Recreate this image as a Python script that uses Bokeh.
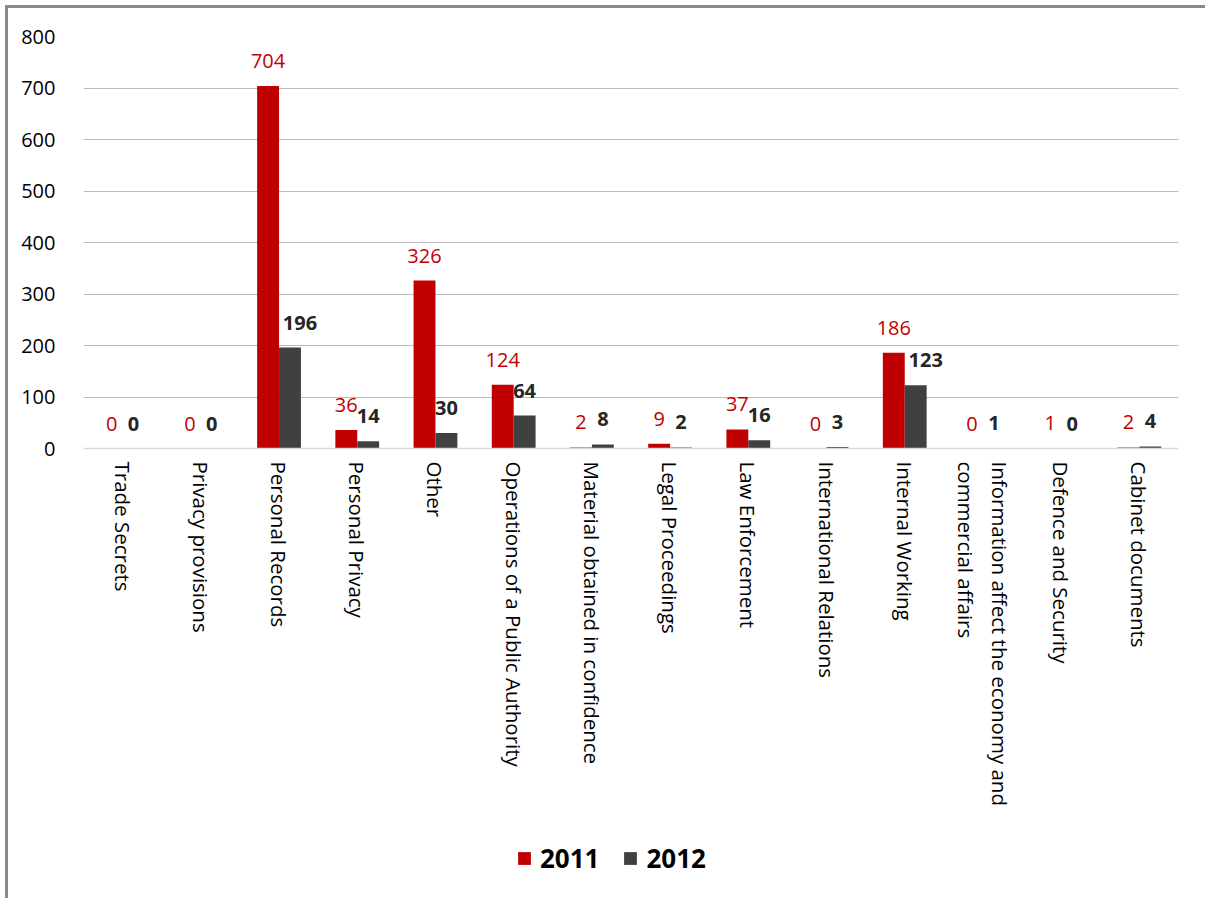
import math
from bokeh.plotting import figure
from bokeh.layouts import column
from bokeh.core.properties import value
from bokeh.models import (ColumnDataSource, FactorRange, LabelSet, Legend, LegendItem,
                          SingleIntervalTicker)
from bokeh.transform import dodge
from bokeh.embed import file_html
from bokeh.resources import INLINE

categories = ["Trade Secrets", "Privacy provisions", "Personal Records", "Personal Privacy",
              "Other", "Operations of a Public Authority", "Material obtained in confidence",
              "Legal Proceedings", "Law Enforcement", "International Relations",
              "Internal Working", "Information affect the economy and\ncommercial affairs",
              "Defence and Security", "Cabinet documents"]
v2011 = [0, 0, 704, 36, 326, 124, 2, 9, 37, 0, 186, 0, 1, 2]
v2012 = [0, 0, 196, 14, 30, 64, 8, 2, 16, 3, 123, 1, 0, 4]
series = ["2011", "2012"]

RED = "#C00000"
GRAY = "#404040"
FONT = "Open Sans"

# shift 2012 labels to the right when the neighbouring 2011 bar would overlap them
off2012 = [10 if (a > b + 20 and b >= 100) else 0 for a, b in zip(v2011, v2012)]

src = ColumnDataSource(dict(cat=categories, v2011=v2011, v2012=v2012,
                            t2011=[str(v) for v in v2011], t2012=[str(v) for v in v2012],
                            off2012=off2012))

p = figure(x_range=FactorRange(*categories), y_range=(0, 800),
           width=1197, height=830, output_backend="svg", toolbar_location=None,
           min_border_left=75, min_border_right=27, min_border_top=28, min_border_bottom=390)
p.outline_line_color = None
p.background_fill_color = "white"
p.border_fill_color = "white"

r1 = p.vbar(x=dodge("cat", -0.14, range=p.x_range), top="v2011", width=0.28, source=src,
            fill_color=RED, line_color=None)
r2 = p.vbar(x=dodge("cat", 0.14, range=p.x_range), top="v2012", width=0.28, source=src,
            fill_color=GRAY, line_color=None)

l1 = LabelSet(x=dodge("cat", -0.14, range=p.x_range), y="v2011", text="t2011", source=src,
              y_offset=18, text_align="center", text_baseline="alphabetic",
              text_font=value(FONT), text_font_size=value("20px"), text_color=RED)
l2 = LabelSet(x=dodge("cat", 0.14, range=p.x_range), y="v2012", text="t2012", source=src,
              y_offset=18, x_offset="off2012", text_align="center", text_baseline="alphabetic",
              text_font=value(FONT), text_font_size=value("20px"),
              text_font_style="bold", text_color="#262626")
p.add_layout(l1)
p.add_layout(l2)

p.xgrid.grid_line_color = None
p.ygrid.grid_line_color = "#bababa"
p.ygrid.grid_line_width = 1

p.yaxis.ticker = SingleIntervalTicker(interval=100)
p.yaxis.axis_line_color = None
p.yaxis.major_tick_line_color = None
p.yaxis.minor_tick_line_color = None
p.yaxis.major_label_standoff = 22
p.yaxis.major_label_text_font = FONT
p.yaxis.major_label_text_font_size = "20px"
p.yaxis.major_label_text_color = "#000000"

p.xaxis.axis_line_color = "#d9d9d9"
p.xaxis.axis_line_width = 1.5
p.xaxis.major_tick_line_color = None
p.xaxis.minor_tick_line_color = None
p.xaxis.major_label_orientation = -math.pi / 2
p.xaxis.major_label_standoff = 7
p.xaxis.major_label_text_font = FONT
p.xaxis.major_label_text_font_size = "20.5px"
p.xaxis.major_label_text_color = "#000000"

# legend strip below the chart (renderers hidden, used only for the legend swatches)
lg = figure(x_range=FactorRange(*categories), y_range=(0, 1),
            width=1197, height=60, output_backend="svg", toolbar_location=None,
            min_border=0)
lg.axis.visible = False
lg.grid.visible = False
lg.outline_line_color = None
g1 = lg.vbar(x=dodge("cat", -0.14, range=lg.x_range), top="v2011", width=0.28, source=src,
             fill_color=RED, line_color=None, visible=False)
g2 = lg.vbar(x=dodge("cat", 0.14, range=lg.x_range), top="v2012", width=0.28, source=src,
             fill_color=GRAY, line_color=None, visible=False)
legend = Legend(items=[LegendItem(label=series[0], renderers=[g1]),
                       LegendItem(label=series[1], renderers=[g2])],
                orientation="horizontal", location=(433, 22),
                glyph_width=16, glyph_height=16, label_standoff=8, spacing=23,
                padding=0, margin=0, border_line_color=None, background_fill_alpha=0,
                label_text_font=FONT, label_text_font_size="26px",
                label_text_font_style="bold", label_text_color="#000000")
lg.add_layout(legend)

layout = column(p, lg, spacing=0)
layout.margin = (5, 0, 0, 5)
layout.styles = {"border-left": "3px solid #8a8a8a", "border-top": "3px solid #8a8a8a"}

open("out.html", "w").write(file_html(layout, INLINE))
